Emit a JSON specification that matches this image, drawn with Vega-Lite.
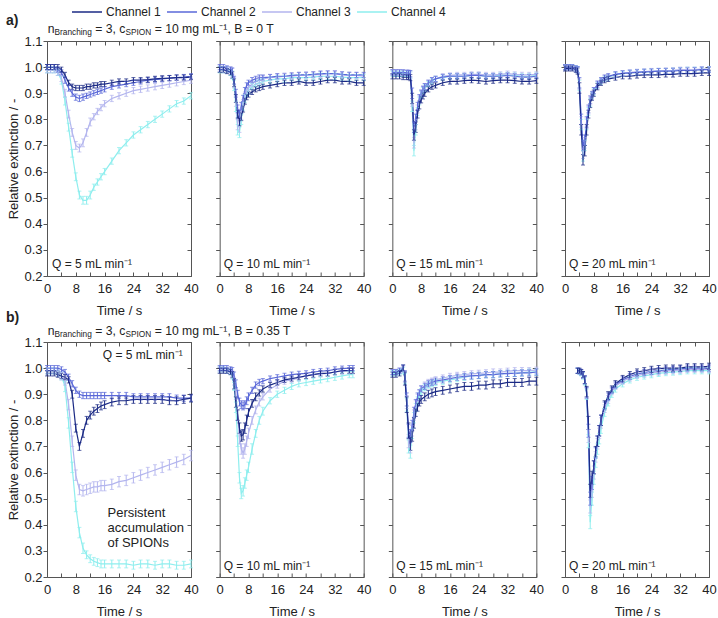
{
"$schema":"https://vega.github.io/schema/vega-lite/v6.json",
"padding":{"left":5,"right":5,"top":5,"bottom":5},
"config":{"font":"Liberation Sans","view":{"stroke":"#555","strokeWidth":1},"axis":{"labelFontSize":13,"titleFontSize":13,"titleFontWeight":"normal","labelColor":"#222","titleColor":"#222","tickColor":"#555","grid":false},"text":{"font":"Liberation Sans","color":"#222"}},
"datasets":{
"a1":[
{"c":4,"t":0,"v":0.99,"e":0.012},{"c":4,"t":1,"v":0.99,"e":0.012},{"c":4,"t":2,"v":0.99,"e":0.012},{"c":4,"t":3,"v":0.98,"e":0.012},{"c":4,"t":4,"v":0.95,"e":0.015},{"c":4,"t":5,"v":0.87,"e":0.015},{"c":4,"t":6,"v":0.77,"e":0.015},{"c":4,"t":7,"v":0.67,"e":0.015},{"c":4,"t":8,"v":0.58,"e":0.015},{"c":4,"t":9,"v":0.51,"e":0.015},{"c":4,"t":10,"v":0.49,"e":0.015},{"c":4,"t":11,"v":0.49,"e":0.015},{"c":4,"t":12,"v":0.51,"e":0.015},{"c":4,"t":13,"v":0.54,"e":0.012},{"c":4,"t":14,"v":0.56,"e":0.012},{"c":4,"t":15,"v":0.58,"e":0.012},{"c":4,"t":16,"v":0.60,"e":0.012},{"c":4,"t":18,"v":0.64,"e":0.012},{"c":4,"t":20,"v":0.68,"e":0.012},{"c":4,"t":22,"v":0.71,"e":0.012},{"c":4,"t":24,"v":0.74,"e":0.012},{"c":4,"t":26,"v":0.76,"e":0.012},{"c":4,"t":28,"v":0.78,"e":0.012},{"c":4,"t":30,"v":0.80,"e":0.012},{"c":4,"t":32,"v":0.82,"e":0.012},{"c":4,"t":34,"v":0.84,"e":0.012},{"c":4,"t":36,"v":0.86,"e":0.012},{"c":4,"t":38,"v":0.87,"e":0.012},{"c":4,"t":40,"v":0.89,"e":0.012},
{"c":3,"t":0,"v":0.99,"e":0.012},{"c":3,"t":1,"v":0.99,"e":0.012},{"c":3,"t":2,"v":0.99,"e":0.012},{"c":3,"t":3,"v":0.98,"e":0.012},{"c":3,"t":4,"v":0.96,"e":0.015},{"c":3,"t":5,"v":0.90,"e":0.015},{"c":3,"t":6,"v":0.82,"e":0.015},{"c":3,"t":7,"v":0.75,"e":0.015},{"c":3,"t":8,"v":0.70,"e":0.015},{"c":3,"t":9,"v":0.69,"e":0.015},{"c":3,"t":10,"v":0.71,"e":0.015},{"c":3,"t":11,"v":0.75,"e":0.015},{"c":3,"t":12,"v":0.79,"e":0.015},{"c":3,"t":13,"v":0.81,"e":0.012},{"c":3,"t":14,"v":0.83,"e":0.012},{"c":3,"t":15,"v":0.845,"e":0.012},{"c":3,"t":16,"v":0.86,"e":0.012},{"c":3,"t":18,"v":0.88,"e":0.012},{"c":3,"t":20,"v":0.89,"e":0.012},{"c":3,"t":22,"v":0.90,"e":0.012},{"c":3,"t":24,"v":0.91,"e":0.012},{"c":3,"t":26,"v":0.915,"e":0.012},{"c":3,"t":28,"v":0.92,"e":0.012},{"c":3,"t":30,"v":0.925,"e":0.012},{"c":3,"t":32,"v":0.93,"e":0.012},{"c":3,"t":34,"v":0.935,"e":0.012},{"c":3,"t":36,"v":0.94,"e":0.012},{"c":3,"t":38,"v":0.945,"e":0.012},{"c":3,"t":40,"v":0.95,"e":0.012},
{"c":2,"t":0,"v":1.0,"e":0.01},{"c":2,"t":1,"v":1.0,"e":0.01},{"c":2,"t":2,"v":1.0,"e":0.01},{"c":2,"t":3,"v":0.99,"e":0.01},{"c":2,"t":4,"v":0.98,"e":0.01},{"c":2,"t":5,"v":0.95,"e":0.012},{"c":2,"t":6,"v":0.92,"e":0.012},{"c":2,"t":7,"v":0.90,"e":0.012},{"c":2,"t":8,"v":0.885,"e":0.012},{"c":2,"t":9,"v":0.88,"e":0.012},{"c":2,"t":10,"v":0.885,"e":0.012},{"c":2,"t":11,"v":0.89,"e":0.01},{"c":2,"t":12,"v":0.895,"e":0.01},{"c":2,"t":13,"v":0.90,"e":0.01},{"c":2,"t":14,"v":0.905,"e":0.01},{"c":2,"t":15,"v":0.91,"e":0.01},{"c":2,"t":16,"v":0.915,"e":0.01},{"c":2,"t":18,"v":0.925,"e":0.01},{"c":2,"t":20,"v":0.93,"e":0.01},{"c":2,"t":22,"v":0.935,"e":0.01},{"c":2,"t":24,"v":0.94,"e":0.01},{"c":2,"t":26,"v":0.945,"e":0.01},{"c":2,"t":28,"v":0.95,"e":0.01},{"c":2,"t":30,"v":0.952,"e":0.01},{"c":2,"t":32,"v":0.955,"e":0.01},{"c":2,"t":34,"v":0.958,"e":0.01},{"c":2,"t":36,"v":0.96,"e":0.01},{"c":2,"t":38,"v":0.962,"e":0.01},{"c":2,"t":40,"v":0.965,"e":0.01},
{"c":1,"t":0,"v":1.0,"e":0.01},{"c":1,"t":1,"v":1.0,"e":0.01},{"c":1,"t":2,"v":1.0,"e":0.01},{"c":1,"t":3,"v":1.0,"e":0.01},{"c":1,"t":4,"v":0.99,"e":0.01},{"c":1,"t":5,"v":0.97,"e":0.01},{"c":1,"t":6,"v":0.94,"e":0.01},{"c":1,"t":7,"v":0.925,"e":0.01},{"c":1,"t":8,"v":0.92,"e":0.01},{"c":1,"t":9,"v":0.92,"e":0.01},{"c":1,"t":10,"v":0.92,"e":0.01},{"c":1,"t":11,"v":0.925,"e":0.01},{"c":1,"t":12,"v":0.925,"e":0.01},{"c":1,"t":13,"v":0.93,"e":0.01},{"c":1,"t":14,"v":0.93,"e":0.01},{"c":1,"t":15,"v":0.935,"e":0.01},{"c":1,"t":16,"v":0.935,"e":0.01},{"c":1,"t":18,"v":0.94,"e":0.01},{"c":1,"t":20,"v":0.945,"e":0.01},{"c":1,"t":22,"v":0.945,"e":0.01},{"c":1,"t":24,"v":0.95,"e":0.01},{"c":1,"t":26,"v":0.95,"e":0.01},{"c":1,"t":28,"v":0.952,"e":0.01},{"c":1,"t":30,"v":0.955,"e":0.01},{"c":1,"t":32,"v":0.957,"e":0.01},{"c":1,"t":34,"v":0.958,"e":0.01},{"c":1,"t":36,"v":0.96,"e":0.01},{"c":1,"t":38,"v":0.96,"e":0.01},{"c":1,"t":40,"v":0.962,"e":0.01}
],
"a2":[
{"c":4,"t":0,"v":0.99,"e":0.012},{"c":4,"t":1,"v":0.99,"e":0.012},{"c":4,"t":2,"v":0.99,"e":0.012},{"c":4,"t":3,"v":0.98,"e":0.012},{"c":4,"t":3.5,"v":0.97,"e":0.015},{"c":4,"t":4,"v":0.93,"e":0.02},{"c":4,"t":4.5,"v":0.85,"e":0.02},{"c":4,"t":5,"v":0.76,"e":0.02},{"c":4,"t":5.5,"v":0.75,"e":0.02},{"c":4,"t":6,"v":0.80,"e":0.02},{"c":4,"t":6.5,"v":0.85,"e":0.015},{"c":4,"t":7,"v":0.88,"e":0.015},{"c":4,"t":7.5,"v":0.90,"e":0.012},{"c":4,"t":8,"v":0.91,"e":0.012},{"c":4,"t":9,"v":0.925,"e":0.012},{"c":4,"t":10,"v":0.935,"e":0.012},{"c":4,"t":11,"v":0.94,"e":0.012},{"c":4,"t":12,"v":0.945,"e":0.012},{"c":4,"t":14,"v":0.95,"e":0.012},{"c":4,"t":16,"v":0.955,"e":0.012},{"c":4,"t":18,"v":0.955,"e":0.012},{"c":4,"t":20,"v":0.96,"e":0.012},{"c":4,"t":22,"v":0.96,"e":0.012},{"c":4,"t":24,"v":0.96,"e":0.012},{"c":4,"t":26,"v":0.962,"e":0.012},{"c":4,"t":28,"v":0.965,"e":0.012},{"c":4,"t":30,"v":0.965,"e":0.012},{"c":4,"t":32,"v":0.965,"e":0.012},{"c":4,"t":34,"v":0.962,"e":0.012},{"c":4,"t":36,"v":0.96,"e":0.012},{"c":4,"t":38,"v":0.96,"e":0.012},{"c":4,"t":40,"v":0.96,"e":0.012},
{"c":3,"t":0,"v":0.995,"e":0.012},{"c":3,"t":1,"v":0.99,"e":0.012},{"c":3,"t":2,"v":0.99,"e":0.012},{"c":3,"t":3,"v":0.99,"e":0.012},{"c":3,"t":3.5,"v":0.98,"e":0.015},{"c":3,"t":4,"v":0.94,"e":0.02},{"c":3,"t":4.5,"v":0.87,"e":0.02},{"c":3,"t":5,"v":0.78,"e":0.02},{"c":3,"t":5.5,"v":0.77,"e":0.02},{"c":3,"t":6,"v":0.82,"e":0.02},{"c":3,"t":6.5,"v":0.86,"e":0.015},{"c":3,"t":7,"v":0.89,"e":0.015},{"c":3,"t":7.5,"v":0.91,"e":0.012},{"c":3,"t":8,"v":0.92,"e":0.012},{"c":3,"t":9,"v":0.935,"e":0.012},{"c":3,"t":10,"v":0.945,"e":0.012},{"c":3,"t":11,"v":0.95,"e":0.012},{"c":3,"t":12,"v":0.955,"e":0.012},{"c":3,"t":14,"v":0.96,"e":0.012},{"c":3,"t":16,"v":0.962,"e":0.012},{"c":3,"t":18,"v":0.965,"e":0.012},{"c":3,"t":20,"v":0.965,"e":0.012},{"c":3,"t":22,"v":0.968,"e":0.012},{"c":3,"t":24,"v":0.97,"e":0.012},{"c":3,"t":26,"v":0.97,"e":0.012},{"c":3,"t":28,"v":0.972,"e":0.012},{"c":3,"t":30,"v":0.975,"e":0.012},{"c":3,"t":32,"v":0.975,"e":0.012},{"c":3,"t":34,"v":0.97,"e":0.012},{"c":3,"t":36,"v":0.968,"e":0.012},{"c":3,"t":38,"v":0.968,"e":0.012},{"c":3,"t":40,"v":0.965,"e":0.012},
{"c":2,"t":0,"v":1.0,"e":0.01},{"c":2,"t":1,"v":1.0,"e":0.01},{"c":2,"t":2,"v":0.995,"e":0.01},{"c":2,"t":3,"v":0.99,"e":0.01},{"c":2,"t":3.5,"v":0.985,"e":0.012},{"c":2,"t":4,"v":0.95,"e":0.015},{"c":2,"t":4.5,"v":0.90,"e":0.015},{"c":2,"t":5,"v":0.84,"e":0.015},{"c":2,"t":5.5,"v":0.82,"e":0.015},{"c":2,"t":6,"v":0.85,"e":0.015},{"c":2,"t":6.5,"v":0.88,"e":0.012},{"c":2,"t":7,"v":0.91,"e":0.012},{"c":2,"t":7.5,"v":0.93,"e":0.01},{"c":2,"t":8,"v":0.94,"e":0.01},{"c":2,"t":9,"v":0.95,"e":0.01},{"c":2,"t":10,"v":0.955,"e":0.01},{"c":2,"t":11,"v":0.96,"e":0.01},{"c":2,"t":12,"v":0.96,"e":0.01},{"c":2,"t":14,"v":0.962,"e":0.01},{"c":2,"t":16,"v":0.965,"e":0.01},{"c":2,"t":18,"v":0.965,"e":0.01},{"c":2,"t":20,"v":0.968,"e":0.01},{"c":2,"t":22,"v":0.97,"e":0.01},{"c":2,"t":24,"v":0.97,"e":0.01},{"c":2,"t":26,"v":0.972,"e":0.01},{"c":2,"t":28,"v":0.975,"e":0.01},{"c":2,"t":30,"v":0.975,"e":0.01},{"c":2,"t":32,"v":0.975,"e":0.01},{"c":2,"t":34,"v":0.972,"e":0.01},{"c":2,"t":36,"v":0.97,"e":0.01},{"c":2,"t":38,"v":0.97,"e":0.01},{"c":2,"t":40,"v":0.97,"e":0.01},
{"c":1,"t":0,"v":0.99,"e":0.01},{"c":1,"t":1,"v":0.99,"e":0.01},{"c":1,"t":2,"v":0.985,"e":0.01},{"c":1,"t":3,"v":0.98,"e":0.01},{"c":1,"t":3.5,"v":0.97,"e":0.012},{"c":1,"t":4,"v":0.94,"e":0.015},{"c":1,"t":4.5,"v":0.88,"e":0.015},{"c":1,"t":5,"v":0.82,"e":0.015},{"c":1,"t":5.5,"v":0.79,"e":0.015},{"c":1,"t":6,"v":0.81,"e":0.015},{"c":1,"t":6.5,"v":0.84,"e":0.012},{"c":1,"t":7,"v":0.87,"e":0.012},{"c":1,"t":7.5,"v":0.885,"e":0.01},{"c":1,"t":8,"v":0.895,"e":0.01},{"c":1,"t":9,"v":0.905,"e":0.01},{"c":1,"t":10,"v":0.915,"e":0.01},{"c":1,"t":11,"v":0.92,"e":0.01},{"c":1,"t":12,"v":0.925,"e":0.01},{"c":1,"t":14,"v":0.93,"e":0.01},{"c":1,"t":16,"v":0.935,"e":0.01},{"c":1,"t":18,"v":0.94,"e":0.01},{"c":1,"t":20,"v":0.94,"e":0.01},{"c":1,"t":22,"v":0.945,"e":0.01},{"c":1,"t":24,"v":0.94,"e":0.01},{"c":1,"t":26,"v":0.94,"e":0.01},{"c":1,"t":28,"v":0.945,"e":0.01},{"c":1,"t":30,"v":0.95,"e":0.01},{"c":1,"t":32,"v":0.95,"e":0.01},{"c":1,"t":34,"v":0.945,"e":0.01},{"c":1,"t":36,"v":0.945,"e":0.01},{"c":1,"t":38,"v":0.94,"e":0.01},{"c":1,"t":40,"v":0.94,"e":0.01}
],
"a3":[
{"c":4,"t":0,"v":0.975,"e":0.01},{"c":4,"t":1,"v":0.975,"e":0.01},{"c":4,"t":2,"v":0.975,"e":0.01},{"c":4,"t":3,"v":0.975,"e":0.01},{"c":4,"t":4,"v":0.975,"e":0.01},{"c":4,"t":4.5,"v":0.975,"e":0.01},{"c":4,"t":5,"v":0.97,"e":0.012},{"c":4,"t":5.5,"v":0.85,"e":0.02},{"c":4,"t":6,"v":0.68,"e":0.02},{"c":4,"t":6.5,"v":0.76,"e":0.02},{"c":4,"t":7,"v":0.83,"e":0.015},{"c":4,"t":7.5,"v":0.87,"e":0.015},{"c":4,"t":8,"v":0.895,"e":0.012},{"c":4,"t":8.5,"v":0.91,"e":0.012},{"c":4,"t":9,"v":0.92,"e":0.012},{"c":4,"t":10,"v":0.935,"e":0.01},{"c":4,"t":11,"v":0.945,"e":0.01},{"c":4,"t":12,"v":0.955,"e":0.01},{"c":4,"t":14,"v":0.96,"e":0.01},{"c":4,"t":16,"v":0.965,"e":0.01},{"c":4,"t":18,"v":0.965,"e":0.01},{"c":4,"t":20,"v":0.965,"e":0.01},{"c":4,"t":22,"v":0.968,"e":0.01},{"c":4,"t":24,"v":0.968,"e":0.01},{"c":4,"t":26,"v":0.965,"e":0.01},{"c":4,"t":28,"v":0.965,"e":0.01},{"c":4,"t":30,"v":0.968,"e":0.01},{"c":4,"t":32,"v":0.97,"e":0.01},{"c":4,"t":34,"v":0.968,"e":0.01},{"c":4,"t":36,"v":0.965,"e":0.01},{"c":4,"t":38,"v":0.965,"e":0.01},{"c":4,"t":40,"v":0.968,"e":0.01},
{"c":3,"t":0,"v":0.98,"e":0.01},{"c":3,"t":1,"v":0.98,"e":0.01},{"c":3,"t":2,"v":0.98,"e":0.01},{"c":3,"t":3,"v":0.978,"e":0.01},{"c":3,"t":4,"v":0.978,"e":0.01},{"c":3,"t":4.5,"v":0.978,"e":0.01},{"c":3,"t":5,"v":0.97,"e":0.012},{"c":3,"t":5.5,"v":0.87,"e":0.02},{"c":3,"t":6,"v":0.71,"e":0.02},{"c":3,"t":6.5,"v":0.78,"e":0.02},{"c":3,"t":7,"v":0.84,"e":0.015},{"c":3,"t":7.5,"v":0.875,"e":0.015},{"c":3,"t":8,"v":0.90,"e":0.012},{"c":3,"t":8.5,"v":0.915,"e":0.012},{"c":3,"t":9,"v":0.925,"e":0.012},{"c":3,"t":10,"v":0.94,"e":0.01},{"c":3,"t":11,"v":0.95,"e":0.01},{"c":3,"t":12,"v":0.955,"e":0.01},{"c":3,"t":14,"v":0.965,"e":0.01},{"c":3,"t":16,"v":0.968,"e":0.01},{"c":3,"t":18,"v":0.97,"e":0.01},{"c":3,"t":20,"v":0.97,"e":0.01},{"c":3,"t":22,"v":0.972,"e":0.01},{"c":3,"t":24,"v":0.972,"e":0.01},{"c":3,"t":26,"v":0.97,"e":0.01},{"c":3,"t":28,"v":0.97,"e":0.01},{"c":3,"t":30,"v":0.972,"e":0.01},{"c":3,"t":32,"v":0.975,"e":0.01},{"c":3,"t":34,"v":0.972,"e":0.01},{"c":3,"t":36,"v":0.97,"e":0.01},{"c":3,"t":38,"v":0.97,"e":0.01},{"c":3,"t":40,"v":0.972,"e":0.01},
{"c":2,"t":0,"v":0.98,"e":0.01},{"c":2,"t":1,"v":0.98,"e":0.01},{"c":2,"t":2,"v":0.98,"e":0.01},{"c":2,"t":3,"v":0.98,"e":0.01},{"c":2,"t":4,"v":0.978,"e":0.01},{"c":2,"t":4.5,"v":0.978,"e":0.01},{"c":2,"t":5,"v":0.975,"e":0.012},{"c":2,"t":5.5,"v":0.90,"e":0.02},{"c":2,"t":6,"v":0.77,"e":0.02},{"c":2,"t":6.5,"v":0.80,"e":0.02},{"c":2,"t":7,"v":0.85,"e":0.015},{"c":2,"t":7.5,"v":0.88,"e":0.015},{"c":2,"t":8,"v":0.90,"e":0.012},{"c":2,"t":8.5,"v":0.915,"e":0.012},{"c":2,"t":9,"v":0.925,"e":0.012},{"c":2,"t":10,"v":0.94,"e":0.01},{"c":2,"t":11,"v":0.95,"e":0.01},{"c":2,"t":12,"v":0.955,"e":0.01},{"c":2,"t":14,"v":0.962,"e":0.01},{"c":2,"t":16,"v":0.965,"e":0.01},{"c":2,"t":18,"v":0.965,"e":0.01},{"c":2,"t":20,"v":0.965,"e":0.01},{"c":2,"t":22,"v":0.968,"e":0.01},{"c":2,"t":24,"v":0.968,"e":0.01},{"c":2,"t":26,"v":0.965,"e":0.01},{"c":2,"t":28,"v":0.965,"e":0.01},{"c":2,"t":30,"v":0.965,"e":0.01},{"c":2,"t":32,"v":0.968,"e":0.01},{"c":2,"t":34,"v":0.965,"e":0.01},{"c":2,"t":36,"v":0.962,"e":0.01},{"c":2,"t":38,"v":0.962,"e":0.01},{"c":2,"t":40,"v":0.965,"e":0.01},
{"c":1,"t":0,"v":0.965,"e":0.01},{"c":1,"t":1,"v":0.965,"e":0.01},{"c":1,"t":2,"v":0.965,"e":0.01},{"c":1,"t":3,"v":0.962,"e":0.01},{"c":1,"t":4,"v":0.962,"e":0.01},{"c":1,"t":4.5,"v":0.962,"e":0.01},{"c":1,"t":5,"v":0.96,"e":0.012},{"c":1,"t":5.5,"v":0.88,"e":0.02},{"c":1,"t":6,"v":0.74,"e":0.02},{"c":1,"t":6.5,"v":0.77,"e":0.02},{"c":1,"t":7,"v":0.82,"e":0.015},{"c":1,"t":7.5,"v":0.855,"e":0.015},{"c":1,"t":8,"v":0.875,"e":0.012},{"c":1,"t":8.5,"v":0.89,"e":0.012},{"c":1,"t":9,"v":0.90,"e":0.012},{"c":1,"t":10,"v":0.915,"e":0.01},{"c":1,"t":11,"v":0.925,"e":0.01},{"c":1,"t":12,"v":0.93,"e":0.01},{"c":1,"t":14,"v":0.94,"e":0.01},{"c":1,"t":16,"v":0.945,"e":0.01},{"c":1,"t":18,"v":0.945,"e":0.01},{"c":1,"t":20,"v":0.948,"e":0.01},{"c":1,"t":22,"v":0.95,"e":0.01},{"c":1,"t":24,"v":0.948,"e":0.01},{"c":1,"t":26,"v":0.945,"e":0.01},{"c":1,"t":28,"v":0.948,"e":0.01},{"c":1,"t":30,"v":0.95,"e":0.01},{"c":1,"t":32,"v":0.95,"e":0.01},{"c":1,"t":34,"v":0.948,"e":0.01},{"c":1,"t":36,"v":0.945,"e":0.01},{"c":1,"t":38,"v":0.945,"e":0.01},{"c":1,"t":40,"v":0.948,"e":0.01}
],
"a4":[
{"c":4,"t":0,"v":1.0,"e":0.01},{"c":4,"t":1,"v":1.0,"e":0.01},{"c":4,"t":2,"v":1.0,"e":0.01},{"c":4,"t":3,"v":0.995,"e":0.01},{"c":4,"t":3.5,"v":0.99,"e":0.012},{"c":4,"t":4,"v":0.93,"e":0.02},{"c":4,"t":4.5,"v":0.78,"e":0.02},{"c":4,"t":5,"v":0.66,"e":0.02},{"c":4,"t":5.5,"v":0.70,"e":0.02},{"c":4,"t":6,"v":0.78,"e":0.02},{"c":4,"t":6.5,"v":0.83,"e":0.015},{"c":4,"t":7,"v":0.865,"e":0.015},{"c":4,"t":7.5,"v":0.89,"e":0.012},{"c":4,"t":8,"v":0.905,"e":0.012},{"c":4,"t":9,"v":0.93,"e":0.012},{"c":4,"t":10,"v":0.945,"e":0.01},{"c":4,"t":11,"v":0.955,"e":0.01},{"c":4,"t":12,"v":0.96,"e":0.01},{"c":4,"t":14,"v":0.97,"e":0.01},{"c":4,"t":16,"v":0.975,"e":0.01},{"c":4,"t":18,"v":0.978,"e":0.01},{"c":4,"t":20,"v":0.98,"e":0.01},{"c":4,"t":22,"v":0.982,"e":0.01},{"c":4,"t":24,"v":0.983,"e":0.01},{"c":4,"t":26,"v":0.985,"e":0.01},{"c":4,"t":28,"v":0.985,"e":0.01},{"c":4,"t":30,"v":0.987,"e":0.01},{"c":4,"t":32,"v":0.988,"e":0.01},{"c":4,"t":34,"v":0.99,"e":0.01},{"c":4,"t":36,"v":0.99,"e":0.01},{"c":4,"t":38,"v":0.99,"e":0.01},{"c":4,"t":40,"v":0.992,"e":0.01},
{"c":3,"t":0,"v":1.0,"e":0.01},{"c":3,"t":1,"v":1.0,"e":0.01},{"c":3,"t":2,"v":1.0,"e":0.01},{"c":3,"t":3,"v":0.995,"e":0.01},{"c":3,"t":3.5,"v":0.99,"e":0.012},{"c":3,"t":4,"v":0.935,"e":0.02},{"c":3,"t":4.5,"v":0.79,"e":0.02},{"c":3,"t":5,"v":0.67,"e":0.02},{"c":3,"t":5.5,"v":0.71,"e":0.02},{"c":3,"t":6,"v":0.785,"e":0.02},{"c":3,"t":6.5,"v":0.835,"e":0.015},{"c":3,"t":7,"v":0.87,"e":0.015},{"c":3,"t":7.5,"v":0.89,"e":0.012},{"c":3,"t":8,"v":0.91,"e":0.012},{"c":3,"t":9,"v":0.932,"e":0.012},{"c":3,"t":10,"v":0.947,"e":0.01},{"c":3,"t":11,"v":0.957,"e":0.01},{"c":3,"t":12,"v":0.962,"e":0.01},{"c":3,"t":14,"v":0.972,"e":0.01},{"c":3,"t":16,"v":0.977,"e":0.01},{"c":3,"t":18,"v":0.98,"e":0.01},{"c":3,"t":20,"v":0.982,"e":0.01},{"c":3,"t":22,"v":0.983,"e":0.01},{"c":3,"t":24,"v":0.985,"e":0.01},{"c":3,"t":26,"v":0.985,"e":0.01},{"c":3,"t":28,"v":0.987,"e":0.01},{"c":3,"t":30,"v":0.988,"e":0.01},{"c":3,"t":32,"v":0.99,"e":0.01},{"c":3,"t":34,"v":0.99,"e":0.01},{"c":3,"t":36,"v":0.99,"e":0.01},{"c":3,"t":38,"v":0.992,"e":0.01},{"c":3,"t":40,"v":0.992,"e":0.01},
{"c":2,"t":0,"v":1.0,"e":0.01},{"c":2,"t":1,"v":1.0,"e":0.01},{"c":2,"t":2,"v":1.0,"e":0.01},{"c":2,"t":3,"v":0.995,"e":0.01},{"c":2,"t":3.5,"v":0.99,"e":0.012},{"c":2,"t":4,"v":0.94,"e":0.02},{"c":2,"t":4.5,"v":0.80,"e":0.02},{"c":2,"t":5,"v":0.70,"e":0.02},{"c":2,"t":5.5,"v":0.72,"e":0.02},{"c":2,"t":6,"v":0.79,"e":0.02},{"c":2,"t":6.5,"v":0.84,"e":0.015},{"c":2,"t":7,"v":0.875,"e":0.015},{"c":2,"t":7.5,"v":0.895,"e":0.012},{"c":2,"t":8,"v":0.91,"e":0.012},{"c":2,"t":9,"v":0.935,"e":0.012},{"c":2,"t":10,"v":0.95,"e":0.01},{"c":2,"t":11,"v":0.96,"e":0.01},{"c":2,"t":12,"v":0.965,"e":0.01},{"c":2,"t":14,"v":0.972,"e":0.01},{"c":2,"t":16,"v":0.976,"e":0.01},{"c":2,"t":18,"v":0.978,"e":0.01},{"c":2,"t":20,"v":0.98,"e":0.01},{"c":2,"t":22,"v":0.982,"e":0.01},{"c":2,"t":24,"v":0.983,"e":0.01},{"c":2,"t":26,"v":0.985,"e":0.01},{"c":2,"t":28,"v":0.985,"e":0.01},{"c":2,"t":30,"v":0.985,"e":0.01},{"c":2,"t":32,"v":0.987,"e":0.01},{"c":2,"t":34,"v":0.987,"e":0.01},{"c":2,"t":36,"v":0.988,"e":0.01},{"c":2,"t":38,"v":0.99,"e":0.01},{"c":2,"t":40,"v":0.99,"e":0.01},
{"c":1,"t":0,"v":0.995,"e":0.01},{"c":1,"t":1,"v":0.995,"e":0.01},{"c":1,"t":2,"v":0.995,"e":0.01},{"c":1,"t":3,"v":0.99,"e":0.01},{"c":1,"t":3.5,"v":0.985,"e":0.012},{"c":1,"t":4,"v":0.92,"e":0.02},{"c":1,"t":4.5,"v":0.76,"e":0.02},{"c":1,"t":5,"v":0.645,"e":0.02},{"c":1,"t":5.5,"v":0.68,"e":0.02},{"c":1,"t":6,"v":0.76,"e":0.02},{"c":1,"t":6.5,"v":0.82,"e":0.015},{"c":1,"t":7,"v":0.86,"e":0.015},{"c":1,"t":7.5,"v":0.885,"e":0.012},{"c":1,"t":8,"v":0.90,"e":0.012},{"c":1,"t":9,"v":0.925,"e":0.012},{"c":1,"t":10,"v":0.94,"e":0.01},{"c":1,"t":11,"v":0.95,"e":0.01},{"c":1,"t":12,"v":0.955,"e":0.01},{"c":1,"t":14,"v":0.96,"e":0.01},{"c":1,"t":16,"v":0.965,"e":0.01},{"c":1,"t":18,"v":0.965,"e":0.01},{"c":1,"t":20,"v":0.968,"e":0.01},{"c":1,"t":22,"v":0.97,"e":0.01},{"c":1,"t":24,"v":0.97,"e":0.01},{"c":1,"t":26,"v":0.97,"e":0.01},{"c":1,"t":28,"v":0.972,"e":0.01},{"c":1,"t":30,"v":0.972,"e":0.01},{"c":1,"t":32,"v":0.975,"e":0.01},{"c":1,"t":34,"v":0.975,"e":0.01},{"c":1,"t":36,"v":0.975,"e":0.01},{"c":1,"t":38,"v":0.978,"e":0.01},{"c":1,"t":40,"v":0.978,"e":0.01}
],
"b1":[
{"c":4,"t":0,"v":0.99,"e":0.012},{"c":4,"t":1,"v":0.99,"e":0.012},{"c":4,"t":2,"v":0.99,"e":0.012},{"c":4,"t":3,"v":0.98,"e":0.012},{"c":4,"t":4,"v":0.97,"e":0.015},{"c":4,"t":5,"v":0.93,"e":0.02},{"c":4,"t":6,"v":0.79,"e":0.02},{"c":4,"t":7,"v":0.62,"e":0.02},{"c":4,"t":8,"v":0.47,"e":0.02},{"c":4,"t":9,"v":0.37,"e":0.02},{"c":4,"t":10,"v":0.31,"e":0.02},{"c":4,"t":11,"v":0.285,"e":0.015},{"c":4,"t":12,"v":0.27,"e":0.015},{"c":4,"t":13,"v":0.26,"e":0.015},{"c":4,"t":14,"v":0.255,"e":0.015},{"c":4,"t":15,"v":0.25,"e":0.015},{"c":4,"t":16,"v":0.25,"e":0.015},{"c":4,"t":18,"v":0.25,"e":0.015},{"c":4,"t":20,"v":0.25,"e":0.015},{"c":4,"t":22,"v":0.25,"e":0.015},{"c":4,"t":24,"v":0.245,"e":0.015},{"c":4,"t":26,"v":0.25,"e":0.015},{"c":4,"t":28,"v":0.25,"e":0.015},{"c":4,"t":30,"v":0.245,"e":0.015},{"c":4,"t":32,"v":0.25,"e":0.015},{"c":4,"t":34,"v":0.25,"e":0.015},{"c":4,"t":36,"v":0.245,"e":0.015},{"c":4,"t":38,"v":0.245,"e":0.015},{"c":4,"t":40,"v":0.25,"e":0.015},
{"c":3,"t":0,"v":0.99,"e":0.012},{"c":3,"t":1,"v":0.99,"e":0.012},{"c":3,"t":2,"v":0.99,"e":0.012},{"c":3,"t":3,"v":0.98,"e":0.012},{"c":3,"t":4,"v":0.97,"e":0.015},{"c":3,"t":5,"v":0.95,"e":0.015},{"c":3,"t":6,"v":0.86,"e":0.02},{"c":3,"t":7,"v":0.72,"e":0.02},{"c":3,"t":8,"v":0.59,"e":0.02},{"c":3,"t":9,"v":0.535,"e":0.02},{"c":3,"t":10,"v":0.53,"e":0.02},{"c":3,"t":11,"v":0.535,"e":0.02},{"c":3,"t":12,"v":0.54,"e":0.02},{"c":3,"t":13,"v":0.545,"e":0.02},{"c":3,"t":14,"v":0.545,"e":0.02},{"c":3,"t":15,"v":0.55,"e":0.02},{"c":3,"t":16,"v":0.55,"e":0.02},{"c":3,"t":18,"v":0.555,"e":0.02},{"c":3,"t":20,"v":0.565,"e":0.02},{"c":3,"t":22,"v":0.57,"e":0.02},{"c":3,"t":24,"v":0.58,"e":0.02},{"c":3,"t":26,"v":0.59,"e":0.02},{"c":3,"t":28,"v":0.60,"e":0.02},{"c":3,"t":30,"v":0.61,"e":0.02},{"c":3,"t":32,"v":0.62,"e":0.02},{"c":3,"t":34,"v":0.63,"e":0.02},{"c":3,"t":36,"v":0.64,"e":0.02},{"c":3,"t":38,"v":0.65,"e":0.02},{"c":3,"t":40,"v":0.665,"e":0.02},
{"c":2,"t":0,"v":1.0,"e":0.01},{"c":2,"t":1,"v":1.0,"e":0.01},{"c":2,"t":2,"v":1.0,"e":0.01},{"c":2,"t":3,"v":1.0,"e":0.01},{"c":2,"t":4,"v":0.995,"e":0.01},{"c":2,"t":5,"v":0.985,"e":0.01},{"c":2,"t":6,"v":0.965,"e":0.012},{"c":2,"t":7,"v":0.94,"e":0.012},{"c":2,"t":8,"v":0.915,"e":0.012},{"c":2,"t":9,"v":0.90,"e":0.012},{"c":2,"t":10,"v":0.895,"e":0.012},{"c":2,"t":11,"v":0.895,"e":0.012},{"c":2,"t":12,"v":0.895,"e":0.012},{"c":2,"t":13,"v":0.895,"e":0.012},{"c":2,"t":14,"v":0.895,"e":0.012},{"c":2,"t":15,"v":0.895,"e":0.012},{"c":2,"t":16,"v":0.895,"e":0.012},{"c":2,"t":18,"v":0.895,"e":0.012},{"c":2,"t":20,"v":0.895,"e":0.012},{"c":2,"t":22,"v":0.895,"e":0.012},{"c":2,"t":24,"v":0.89,"e":0.012},{"c":2,"t":26,"v":0.89,"e":0.012},{"c":2,"t":28,"v":0.89,"e":0.012},{"c":2,"t":30,"v":0.89,"e":0.012},{"c":2,"t":32,"v":0.89,"e":0.012},{"c":2,"t":34,"v":0.89,"e":0.012},{"c":2,"t":36,"v":0.885,"e":0.012},{"c":2,"t":38,"v":0.885,"e":0.012},{"c":2,"t":40,"v":0.885,"e":0.012},
{"c":1,"t":0,"v":0.98,"e":0.01},{"c":1,"t":1,"v":0.98,"e":0.01},{"c":1,"t":2,"v":0.98,"e":0.01},{"c":1,"t":3,"v":0.975,"e":0.01},{"c":1,"t":4,"v":0.97,"e":0.01},{"c":1,"t":5,"v":0.965,"e":0.01},{"c":1,"t":6,"v":0.955,"e":0.012},{"c":1,"t":7,"v":0.90,"e":0.015},{"c":1,"t":8,"v":0.77,"e":0.015},{"c":1,"t":9,"v":0.70,"e":0.015},{"c":1,"t":10,"v":0.75,"e":0.015},{"c":1,"t":11,"v":0.80,"e":0.015},{"c":1,"t":12,"v":0.82,"e":0.015},{"c":1,"t":13,"v":0.835,"e":0.015},{"c":1,"t":14,"v":0.845,"e":0.015},{"c":1,"t":15,"v":0.855,"e":0.015},{"c":1,"t":16,"v":0.86,"e":0.015},{"c":1,"t":18,"v":0.87,"e":0.015},{"c":1,"t":20,"v":0.875,"e":0.015},{"c":1,"t":22,"v":0.875,"e":0.015},{"c":1,"t":24,"v":0.88,"e":0.015},{"c":1,"t":26,"v":0.88,"e":0.015},{"c":1,"t":28,"v":0.88,"e":0.015},{"c":1,"t":30,"v":0.88,"e":0.015},{"c":1,"t":32,"v":0.88,"e":0.015},{"c":1,"t":34,"v":0.875,"e":0.015},{"c":1,"t":36,"v":0.875,"e":0.015},{"c":1,"t":38,"v":0.88,"e":0.015},{"c":1,"t":40,"v":0.885,"e":0.015}
],
"b2":[
{"c":4,"t":0,"v":0.995,"e":0.01},{"c":4,"t":1,"v":0.995,"e":0.01},{"c":4,"t":2,"v":0.99,"e":0.01},{"c":4,"t":3,"v":0.985,"e":0.01},{"c":4,"t":3.5,"v":0.97,"e":0.012},{"c":4,"t":4,"v":0.93,"e":0.015},{"c":4,"t":4.5,"v":0.85,"e":0.02},{"c":4,"t":5,"v":0.72,"e":0.02},{"c":4,"t":5.5,"v":0.58,"e":0.02},{"c":4,"t":6,"v":0.52,"e":0.02},{"c":4,"t":6.5,"v":0.53,"e":0.02},{"c":4,"t":7,"v":0.56,"e":0.02},{"c":4,"t":7.5,"v":0.59,"e":0.02},{"c":4,"t":8,"v":0.62,"e":0.02},{"c":4,"t":9,"v":0.69,"e":0.02},{"c":4,"t":10,"v":0.75,"e":0.015},{"c":4,"t":11,"v":0.80,"e":0.015},{"c":4,"t":12,"v":0.835,"e":0.015},{"c":4,"t":14,"v":0.875,"e":0.012},{"c":4,"t":16,"v":0.90,"e":0.012},{"c":4,"t":18,"v":0.915,"e":0.012},{"c":4,"t":20,"v":0.93,"e":0.012},{"c":4,"t":22,"v":0.94,"e":0.012},{"c":4,"t":24,"v":0.945,"e":0.012},{"c":4,"t":26,"v":0.95,"e":0.012},{"c":4,"t":28,"v":0.955,"e":0.012},{"c":4,"t":30,"v":0.96,"e":0.012},{"c":4,"t":32,"v":0.965,"e":0.012},{"c":4,"t":34,"v":0.97,"e":0.012},{"c":4,"t":36,"v":0.975,"e":0.012},{"c":4,"t":37,"v":0.975,"e":0.012},
{"c":3,"t":0,"v":0.995,"e":0.01},{"c":3,"t":1,"v":0.995,"e":0.01},{"c":3,"t":2,"v":0.99,"e":0.01},{"c":3,"t":3,"v":0.99,"e":0.01},{"c":3,"t":3.5,"v":0.98,"e":0.012},{"c":3,"t":4,"v":0.95,"e":0.015},{"c":3,"t":4.5,"v":0.90,"e":0.02},{"c":3,"t":5,"v":0.82,"e":0.02},{"c":3,"t":5.5,"v":0.73,"e":0.02},{"c":3,"t":6,"v":0.69,"e":0.02},{"c":3,"t":6.5,"v":0.675,"e":0.02},{"c":3,"t":7,"v":0.69,"e":0.02},{"c":3,"t":7.5,"v":0.72,"e":0.02},{"c":3,"t":8,"v":0.75,"e":0.02},{"c":3,"t":9,"v":0.80,"e":0.015},{"c":3,"t":10,"v":0.84,"e":0.015},{"c":3,"t":11,"v":0.87,"e":0.015},{"c":3,"t":12,"v":0.89,"e":0.012},{"c":3,"t":14,"v":0.92,"e":0.012},{"c":3,"t":16,"v":0.935,"e":0.012},{"c":3,"t":18,"v":0.95,"e":0.012},{"c":3,"t":20,"v":0.955,"e":0.012},{"c":3,"t":22,"v":0.962,"e":0.012},{"c":3,"t":24,"v":0.97,"e":0.012},{"c":3,"t":26,"v":0.975,"e":0.012},{"c":3,"t":28,"v":0.978,"e":0.012},{"c":3,"t":30,"v":0.98,"e":0.012},{"c":3,"t":32,"v":0.985,"e":0.012},{"c":3,"t":34,"v":0.988,"e":0.012},{"c":3,"t":36,"v":0.99,"e":0.012},{"c":3,"t":37,"v":0.99,"e":0.012},
{"c":2,"t":0,"v":1.0,"e":0.01},{"c":2,"t":1,"v":1.0,"e":0.01},{"c":2,"t":2,"v":1.0,"e":0.01},{"c":2,"t":3,"v":0.995,"e":0.01},{"c":2,"t":3.5,"v":0.99,"e":0.012},{"c":2,"t":4,"v":0.97,"e":0.015},{"c":2,"t":4.5,"v":0.94,"e":0.015},{"c":2,"t":5,"v":0.90,"e":0.015},{"c":2,"t":5.5,"v":0.87,"e":0.015},{"c":2,"t":6,"v":0.86,"e":0.015},{"c":2,"t":6.5,"v":0.855,"e":0.015},{"c":2,"t":7,"v":0.86,"e":0.015},{"c":2,"t":7.5,"v":0.875,"e":0.015},{"c":2,"t":8,"v":0.89,"e":0.015},{"c":2,"t":9,"v":0.915,"e":0.012},{"c":2,"t":10,"v":0.935,"e":0.012},{"c":2,"t":11,"v":0.945,"e":0.012},{"c":2,"t":12,"v":0.95,"e":0.01},{"c":2,"t":14,"v":0.96,"e":0.01},{"c":2,"t":16,"v":0.965,"e":0.01},{"c":2,"t":18,"v":0.97,"e":0.01},{"c":2,"t":20,"v":0.975,"e":0.01},{"c":2,"t":22,"v":0.978,"e":0.01},{"c":2,"t":24,"v":0.98,"e":0.01},{"c":2,"t":26,"v":0.985,"e":0.01},{"c":2,"t":28,"v":0.988,"e":0.01},{"c":2,"t":30,"v":0.99,"e":0.01},{"c":2,"t":32,"v":0.995,"e":0.01},{"c":2,"t":34,"v":0.998,"e":0.01},{"c":2,"t":36,"v":1.0,"e":0.01},{"c":2,"t":37,"v":1.0,"e":0.01},
{"c":1,"t":0,"v":0.99,"e":0.01},{"c":1,"t":1,"v":0.99,"e":0.01},{"c":1,"t":2,"v":0.99,"e":0.01},{"c":1,"t":3,"v":0.985,"e":0.01},{"c":1,"t":3.5,"v":0.975,"e":0.012},{"c":1,"t":4,"v":0.94,"e":0.02},{"c":1,"t":4.5,"v":0.87,"e":0.02},{"c":1,"t":5,"v":0.82,"e":0.02},{"c":1,"t":5.5,"v":0.77,"e":0.02},{"c":1,"t":6,"v":0.74,"e":0.02},{"c":1,"t":6.5,"v":0.745,"e":0.02},{"c":1,"t":7,"v":0.77,"e":0.02},{"c":1,"t":7.5,"v":0.80,"e":0.02},{"c":1,"t":8,"v":0.83,"e":0.015},{"c":1,"t":9,"v":0.865,"e":0.015},{"c":1,"t":10,"v":0.89,"e":0.015},{"c":1,"t":11,"v":0.905,"e":0.012},{"c":1,"t":12,"v":0.92,"e":0.012},{"c":1,"t":14,"v":0.935,"e":0.01},{"c":1,"t":16,"v":0.945,"e":0.01},{"c":1,"t":18,"v":0.955,"e":0.01},{"c":1,"t":20,"v":0.96,"e":0.01},{"c":1,"t":22,"v":0.965,"e":0.01},{"c":1,"t":24,"v":0.97,"e":0.01},{"c":1,"t":26,"v":0.975,"e":0.01},{"c":1,"t":28,"v":0.98,"e":0.01},{"c":1,"t":30,"v":0.98,"e":0.01},{"c":1,"t":32,"v":0.985,"e":0.01},{"c":1,"t":34,"v":0.99,"e":0.01},{"c":1,"t":36,"v":0.99,"e":0.01},{"c":1,"t":37,"v":0.99,"e":0.01}
],
"b3":[
{"c":4,"t":0,"v":0.98,"e":0.01},{"c":4,"t":1,"v":0.98,"e":0.01},{"c":4,"t":2,"v":0.985,"e":0.01},{"c":4,"t":3,"v":0.99,"e":0.012},{"c":4,"t":3.5,"v":0.96,"e":0.02},{"c":4,"t":4,"v":0.86,"e":0.025},{"c":4,"t":4.5,"v":0.70,"e":0.025},{"c":4,"t":5,"v":0.68,"e":0.025},{"c":4,"t":5.5,"v":0.75,"e":0.02},{"c":4,"t":6,"v":0.81,"e":0.02},{"c":4,"t":6.5,"v":0.85,"e":0.015},{"c":4,"t":7,"v":0.875,"e":0.015},{"c":4,"t":7.5,"v":0.895,"e":0.012},{"c":4,"t":8,"v":0.91,"e":0.012},{"c":4,"t":9,"v":0.925,"e":0.012},{"c":4,"t":10,"v":0.935,"e":0.012},{"c":4,"t":11,"v":0.94,"e":0.012},{"c":4,"t":12,"v":0.945,"e":0.012},{"c":4,"t":14,"v":0.95,"e":0.012},{"c":4,"t":16,"v":0.955,"e":0.012},{"c":4,"t":18,"v":0.96,"e":0.012},{"c":4,"t":20,"v":0.965,"e":0.012},{"c":4,"t":22,"v":0.97,"e":0.012},{"c":4,"t":24,"v":0.972,"e":0.012},{"c":4,"t":26,"v":0.975,"e":0.012},{"c":4,"t":28,"v":0.975,"e":0.012},{"c":4,"t":30,"v":0.978,"e":0.012},{"c":4,"t":32,"v":0.98,"e":0.012},{"c":4,"t":34,"v":0.98,"e":0.012},{"c":4,"t":36,"v":0.982,"e":0.012},{"c":4,"t":38,"v":0.985,"e":0.012},{"c":4,"t":40,"v":0.985,"e":0.012},
{"c":3,"t":0,"v":0.985,"e":0.01},{"c":3,"t":1,"v":0.985,"e":0.01},{"c":3,"t":2,"v":0.99,"e":0.01},{"c":3,"t":3,"v":0.995,"e":0.012},{"c":3,"t":3.5,"v":0.965,"e":0.02},{"c":3,"t":4,"v":0.87,"e":0.025},{"c":3,"t":4.5,"v":0.72,"e":0.025},{"c":3,"t":5,"v":0.70,"e":0.025},{"c":3,"t":5.5,"v":0.76,"e":0.02},{"c":3,"t":6,"v":0.82,"e":0.02},{"c":3,"t":6.5,"v":0.86,"e":0.015},{"c":3,"t":7,"v":0.885,"e":0.015},{"c":3,"t":7.5,"v":0.905,"e":0.012},{"c":3,"t":8,"v":0.92,"e":0.012},{"c":3,"t":9,"v":0.935,"e":0.012},{"c":3,"t":10,"v":0.945,"e":0.012},{"c":3,"t":11,"v":0.95,"e":0.012},{"c":3,"t":12,"v":0.955,"e":0.012},{"c":3,"t":14,"v":0.962,"e":0.012},{"c":3,"t":16,"v":0.968,"e":0.012},{"c":3,"t":18,"v":0.972,"e":0.012},{"c":3,"t":20,"v":0.975,"e":0.012},{"c":3,"t":22,"v":0.978,"e":0.012},{"c":3,"t":24,"v":0.98,"e":0.012},{"c":3,"t":26,"v":0.982,"e":0.012},{"c":3,"t":28,"v":0.985,"e":0.012},{"c":3,"t":30,"v":0.985,"e":0.012},{"c":3,"t":32,"v":0.988,"e":0.012},{"c":3,"t":34,"v":0.99,"e":0.012},{"c":3,"t":36,"v":0.99,"e":0.012},{"c":3,"t":38,"v":0.99,"e":0.012},{"c":3,"t":40,"v":0.992,"e":0.012},
{"c":2,"t":0,"v":0.985,"e":0.01},{"c":2,"t":1,"v":0.985,"e":0.01},{"c":2,"t":2,"v":0.99,"e":0.01},{"c":2,"t":3,"v":1.0,"e":0.012},{"c":2,"t":3.5,"v":0.97,"e":0.02},{"c":2,"t":4,"v":0.88,"e":0.025},{"c":2,"t":4.5,"v":0.76,"e":0.025},{"c":2,"t":5,"v":0.74,"e":0.025},{"c":2,"t":5.5,"v":0.78,"e":0.02},{"c":2,"t":6,"v":0.83,"e":0.02},{"c":2,"t":6.5,"v":0.865,"e":0.015},{"c":2,"t":7,"v":0.89,"e":0.015},{"c":2,"t":7.5,"v":0.905,"e":0.012},{"c":2,"t":8,"v":0.92,"e":0.012},{"c":2,"t":9,"v":0.93,"e":0.012},{"c":2,"t":10,"v":0.94,"e":0.012},{"c":2,"t":11,"v":0.945,"e":0.012},{"c":2,"t":12,"v":0.95,"e":0.012},{"c":2,"t":14,"v":0.955,"e":0.012},{"c":2,"t":16,"v":0.96,"e":0.012},{"c":2,"t":18,"v":0.965,"e":0.012},{"c":2,"t":20,"v":0.968,"e":0.012},{"c":2,"t":22,"v":0.97,"e":0.012},{"c":2,"t":24,"v":0.972,"e":0.012},{"c":2,"t":26,"v":0.975,"e":0.012},{"c":2,"t":28,"v":0.975,"e":0.012},{"c":2,"t":30,"v":0.978,"e":0.012},{"c":2,"t":32,"v":0.98,"e":0.012},{"c":2,"t":34,"v":0.98,"e":0.012},{"c":2,"t":36,"v":0.982,"e":0.012},{"c":2,"t":38,"v":0.982,"e":0.012},{"c":2,"t":40,"v":0.985,"e":0.012},
{"c":1,"t":0,"v":0.975,"e":0.01},{"c":1,"t":1,"v":0.975,"e":0.01},{"c":1,"t":2,"v":0.98,"e":0.01},{"c":1,"t":3,"v":1.0,"e":0.012},{"c":1,"t":3.5,"v":0.96,"e":0.025},{"c":1,"t":4,"v":0.86,"e":0.03},{"c":1,"t":4.5,"v":0.76,"e":0.03},{"c":1,"t":5,"v":0.71,"e":0.025},{"c":1,"t":5.5,"v":0.74,"e":0.02},{"c":1,"t":6,"v":0.79,"e":0.02},{"c":1,"t":6.5,"v":0.83,"e":0.015},{"c":1,"t":7,"v":0.85,"e":0.015},{"c":1,"t":7.5,"v":0.87,"e":0.015},{"c":1,"t":8,"v":0.88,"e":0.015},{"c":1,"t":9,"v":0.89,"e":0.015},{"c":1,"t":10,"v":0.90,"e":0.015},{"c":1,"t":11,"v":0.905,"e":0.015},{"c":1,"t":12,"v":0.91,"e":0.015},{"c":1,"t":14,"v":0.915,"e":0.015},{"c":1,"t":16,"v":0.92,"e":0.015},{"c":1,"t":18,"v":0.925,"e":0.015},{"c":1,"t":20,"v":0.93,"e":0.015},{"c":1,"t":22,"v":0.93,"e":0.015},{"c":1,"t":24,"v":0.935,"e":0.015},{"c":1,"t":26,"v":0.935,"e":0.015},{"c":1,"t":28,"v":0.94,"e":0.015},{"c":1,"t":30,"v":0.94,"e":0.015},{"c":1,"t":32,"v":0.945,"e":0.015},{"c":1,"t":34,"v":0.945,"e":0.015},{"c":1,"t":36,"v":0.945,"e":0.015},{"c":1,"t":38,"v":0.95,"e":0.015},{"c":1,"t":40,"v":0.95,"e":0.015}
],
"b4":[
{"c":4,"t":3.5,"v":0.99,"e":0.01},{"c":4,"t":4,"v":0.985,"e":0.01},{"c":4,"t":4.5,"v":0.98,"e":0.01},{"c":4,"t":5,"v":0.97,"e":0.012},{"c":4,"t":5.5,"v":0.95,"e":0.015},{"c":4,"t":6,"v":0.90,"e":0.02},{"c":4,"t":6.5,"v":0.72,"e":0.025},{"c":4,"t":7,"v":0.41,"e":0.025},{"c":4,"t":7.5,"v":0.50,"e":0.025},{"c":4,"t":8,"v":0.58,"e":0.025},{"c":4,"t":8.5,"v":0.64,"e":0.02},{"c":4,"t":9,"v":0.69,"e":0.02},{"c":4,"t":9.5,"v":0.73,"e":0.02},{"c":4,"t":10,"v":0.77,"e":0.02},{"c":4,"t":11,"v":0.83,"e":0.015},{"c":4,"t":12,"v":0.87,"e":0.015},{"c":4,"t":13,"v":0.90,"e":0.012},{"c":4,"t":14,"v":0.92,"e":0.012},{"c":4,"t":16,"v":0.94,"e":0.012},{"c":4,"t":18,"v":0.955,"e":0.012},{"c":4,"t":20,"v":0.965,"e":0.012},{"c":4,"t":22,"v":0.97,"e":0.012},{"c":4,"t":24,"v":0.975,"e":0.012},{"c":4,"t":26,"v":0.98,"e":0.012},{"c":4,"t":28,"v":0.983,"e":0.012},{"c":4,"t":30,"v":0.985,"e":0.012},{"c":4,"t":32,"v":0.987,"e":0.012},{"c":4,"t":34,"v":0.99,"e":0.012},{"c":4,"t":36,"v":0.99,"e":0.012},{"c":4,"t":38,"v":0.99,"e":0.012},{"c":4,"t":40,"v":0.99,"e":0.012},
{"c":3,"t":3.5,"v":0.99,"e":0.01},{"c":3,"t":4,"v":0.987,"e":0.01},{"c":3,"t":4.5,"v":0.982,"e":0.01},{"c":3,"t":5,"v":0.972,"e":0.012},{"c":3,"t":5.5,"v":0.955,"e":0.015},{"c":3,"t":6,"v":0.905,"e":0.02},{"c":3,"t":6.5,"v":0.74,"e":0.025},{"c":3,"t":7,"v":0.47,"e":0.025},{"c":3,"t":7.5,"v":0.53,"e":0.025},{"c":3,"t":8,"v":0.60,"e":0.025},{"c":3,"t":8.5,"v":0.66,"e":0.02},{"c":3,"t":9,"v":0.71,"e":0.02},{"c":3,"t":9.5,"v":0.75,"e":0.02},{"c":3,"t":10,"v":0.79,"e":0.02},{"c":3,"t":11,"v":0.845,"e":0.015},{"c":3,"t":12,"v":0.88,"e":0.015},{"c":3,"t":13,"v":0.91,"e":0.012},{"c":3,"t":14,"v":0.93,"e":0.012},{"c":3,"t":16,"v":0.95,"e":0.012},{"c":3,"t":18,"v":0.962,"e":0.012},{"c":3,"t":20,"v":0.972,"e":0.012},{"c":3,"t":22,"v":0.977,"e":0.012},{"c":3,"t":24,"v":0.982,"e":0.012},{"c":3,"t":26,"v":0.985,"e":0.012},{"c":3,"t":28,"v":0.988,"e":0.012},{"c":3,"t":30,"v":0.99,"e":0.012},{"c":3,"t":32,"v":0.992,"e":0.012},{"c":3,"t":34,"v":0.995,"e":0.012},{"c":3,"t":36,"v":0.995,"e":0.012},{"c":3,"t":38,"v":0.995,"e":0.012},{"c":3,"t":40,"v":0.995,"e":0.012},
{"c":2,"t":3.5,"v":0.99,"e":0.01},{"c":2,"t":4,"v":0.988,"e":0.01},{"c":2,"t":4.5,"v":0.984,"e":0.01},{"c":2,"t":5,"v":0.974,"e":0.012},{"c":2,"t":5.5,"v":0.955,"e":0.015},{"c":2,"t":6,"v":0.905,"e":0.02},{"c":2,"t":6.5,"v":0.76,"e":0.025},{"c":2,"t":7,"v":0.50,"e":0.025},{"c":2,"t":7.5,"v":0.56,"e":0.025},{"c":2,"t":8,"v":0.62,"e":0.025},{"c":2,"t":8.5,"v":0.675,"e":0.02},{"c":2,"t":9,"v":0.72,"e":0.02},{"c":2,"t":9.5,"v":0.76,"e":0.02},{"c":2,"t":10,"v":0.80,"e":0.02},{"c":2,"t":11,"v":0.855,"e":0.015},{"c":2,"t":12,"v":0.89,"e":0.015},{"c":2,"t":13,"v":0.915,"e":0.012},{"c":2,"t":14,"v":0.935,"e":0.012},{"c":2,"t":16,"v":0.955,"e":0.012},{"c":2,"t":18,"v":0.968,"e":0.012},{"c":2,"t":20,"v":0.978,"e":0.012},{"c":2,"t":22,"v":0.983,"e":0.012},{"c":2,"t":24,"v":0.988,"e":0.012},{"c":2,"t":26,"v":0.99,"e":0.012},{"c":2,"t":28,"v":0.993,"e":0.012},{"c":2,"t":30,"v":0.995,"e":0.012},{"c":2,"t":32,"v":0.997,"e":0.012},{"c":2,"t":34,"v":1.0,"e":0.012},{"c":2,"t":36,"v":1.0,"e":0.012},{"c":2,"t":38,"v":1.0,"e":0.012},{"c":2,"t":40,"v":1.0,"e":0.012},
{"c":1,"t":3.5,"v":0.99,"e":0.01},{"c":1,"t":4,"v":0.99,"e":0.01},{"c":1,"t":4.5,"v":0.985,"e":0.01},{"c":1,"t":5,"v":0.975,"e":0.012},{"c":1,"t":5.5,"v":0.955,"e":0.015},{"c":1,"t":6,"v":0.91,"e":0.02},{"c":1,"t":6.5,"v":0.79,"e":0.025},{"c":1,"t":7,"v":0.53,"e":0.025},{"c":1,"t":7.5,"v":0.58,"e":0.025},{"c":1,"t":8,"v":0.62,"e":0.025},{"c":1,"t":8.5,"v":0.68,"e":0.02},{"c":1,"t":9,"v":0.72,"e":0.02},{"c":1,"t":9.5,"v":0.76,"e":0.02},{"c":1,"t":10,"v":0.80,"e":0.02},{"c":1,"t":11,"v":0.86,"e":0.015},{"c":1,"t":12,"v":0.895,"e":0.015},{"c":1,"t":13,"v":0.92,"e":0.012},{"c":1,"t":14,"v":0.94,"e":0.012},{"c":1,"t":16,"v":0.96,"e":0.012},{"c":1,"t":18,"v":0.975,"e":0.012},{"c":1,"t":20,"v":0.985,"e":0.012},{"c":1,"t":22,"v":0.99,"e":0.012},{"c":1,"t":24,"v":0.995,"e":0.012},{"c":1,"t":26,"v":0.998,"e":0.012},{"c":1,"t":28,"v":1.0,"e":0.012},{"c":1,"t":30,"v":1.0,"e":0.012},{"c":1,"t":32,"v":1.0,"e":0.012},{"c":1,"t":34,"v":1.005,"e":0.012},{"c":1,"t":36,"v":1.005,"e":0.012},{"c":1,"t":38,"v":1.005,"e":0.012},{"c":1,"t":40,"v":1.007,"e":0.012}
]
},
"columns":4,
"spacing":{"row":66,"column":28.67},
"bounds":"flush",
"resolve":{"legend":{"color":"independent"}},
"concat":[
{"width":144,"height":235,"data":{"name":"a1"},"resolve":{"axis":{"x":"independent","y":"independent"}},
"layer":[
{"mark":{"type":"line","strokeWidth":1.2},"encoding":{
"x":{"field":"t","type":"quantitative","scale":{"domain":[0,40]},"title":"Time / s","axis":{"orient":"bottom","values":[0,4,8,12,16,20,24,28,32,36,40],"labelExpr":"datum.value % 8 === 0 ? datum.label : ''","tickSize":-4,"domain":false,"labelFlush":false,"labelOverlap":false,"labelPadding":10,"titlePadding":9}},
"y":{"field":"v","type":"quantitative","scale":{"domain":[0.2,1.1]},"title":"Relative extinction / -","axis":{"orient":"left","values":[0.2,0.3,0.4,0.5,0.6,0.7,0.8,0.9,1.0,1.1],"format":".1f","tickSize":4,"domain":false,"labelFlush":false,"labelOverlap":false,"labelPadding":1,"titlePadding":3}},
"color":{"field":"c","type":"nominal","scale":{"domain":[1,2,3,4],"range":["#1b2a85","#5a68d8","#b3b5ee","#8eeeee"]},"legend":{"orient":"none","legendX":24,"legendY":-35,"direction":"horizontal","title":null,"symbolType":"M-1,0H5","symbolSize":100,"symbolStrokeWidth":1.5,"labelFontSize":12,"labelColor":"#222","labelExpr":"'Channel ' + datum.label","labelOffset":23,"columnPadding":3,"padding":0}}}},
{"mark":{"type":"errorbar","ticks":{"size":4},"thickness":1},"encoding":{"x":{"field":"t","type":"quantitative","axis":null},"y":{"field":"v","type":"quantitative","axis":null},"yError":{"field":"e"},"color":{"field":"c","type":"nominal","legend":null}}},
{"data":{"values":[{}]},"mark":{"type":"text","align":"left","baseline":"alphabetic","fontSize":12},"encoding":{"x":{"datum":1.4,"type":"quantitative","axis":{"orient":"top","values":[0,4,8,12,16,20,24,28,32,36,40],"labels":false,"tickSize":-4,"domain":false,"title":null}},"y":{"datum":0.229,"type":"quantitative","axis":{"orient":"right","values":[0.2,0.3,0.4,0.5,0.6,0.7,0.8,0.9,1.0,1.1],"labels":false,"tickSize":-4,"domain":false,"title":null}},"text":{"value":"Q = 5 mL min⁻¹"}}},
{"data":{"values":[{}]},"mark":{"type":"text","align":"left","baseline":"alphabetic","fontSize":14,"fontWeight":"bold"},"encoding":{"x":{"datum":-11.4,"type":"quantitative","axis":null},"y":{"datum":1.162,"type":"quantitative","axis":null},"text":{"value":"a)"}}},
{"data":{"values":[{}]},"mark":{"type":"text","align":"left","baseline":"alphabetic","fontSize":12.2},"encoding":{"x":{"datum":0.19,"type":"quantitative","axis":null},"y":{"datum":1.1307,"type":"quantitative","axis":null},"text":{"value":"n"}}},
{"data":{"values":[{}]},"mark":{"type":"text","align":"left","baseline":"alphabetic","fontSize":8.3,"dy":2.5},"encoding":{"x":{"datum":2.08,"type":"quantitative","axis":null},"y":{"datum":1.1307,"type":"quantitative","axis":null},"text":{"value":"Branching"}}},
{"data":{"values":[{}]},"mark":{"type":"text","align":"left","baseline":"alphabetic","fontSize":12.2},"encoding":{"x":{"datum":13.39,"type":"quantitative","axis":null},"y":{"datum":1.1307,"type":"quantitative","axis":null},"text":{"value":"= 3, c"}}},
{"data":{"values":[{}]},"mark":{"type":"text","align":"left","baseline":"alphabetic","fontSize":8.3,"dy":2.5},"encoding":{"x":{"datum":21.78,"type":"quantitative","axis":null},"y":{"datum":1.1307,"type":"quantitative","axis":null},"text":{"value":"SPION"}}},
{"data":{"values":[{}]},"mark":{"type":"text","align":"left","baseline":"alphabetic","fontSize":12.2},"encoding":{"x":{"datum":29.9,"type":"quantitative","axis":null},"y":{"datum":1.1307,"type":"quantitative","axis":null},"text":{"value":"= 10 mg mL⁻¹, B = 0 T"}}}
]},
{"width":144,"height":235,"data":{"name":"a2"},"resolve":{"axis":{"x":"independent","y":"independent"}},
"layer":[
{"mark":{"type":"line","strokeWidth":1.2},"encoding":{
"x":{"field":"t","type":"quantitative","scale":{"domain":[0,40]},"title":"Time / s","axis":{"orient":"bottom","values":[0,4,8,12,16,20,24,28,32,36,40],"labelExpr":"datum.value % 8 === 0 ? datum.label : ''","tickSize":-4,"domain":false,"labelFlush":false,"labelOverlap":false,"labelPadding":10,"titlePadding":9}},
"y":{"field":"v","type":"quantitative","scale":{"domain":[0.2,1.1]},"title":null,"axis":{"orient":"left","values":[0.2,0.3,0.4,0.5,0.6,0.7,0.8,0.9,1.0,1.1],"labels":false,"tickSize":4,"domain":false}},
"color":{"field":"c","type":"nominal","scale":{"domain":[1,2,3,4],"range":["#1b2a85","#5a68d8","#b3b5ee","#8eeeee"]},"legend":null}}},
{"mark":{"type":"errorbar","ticks":{"size":4},"thickness":1},"encoding":{"x":{"field":"t","type":"quantitative","axis":null},"y":{"field":"v","type":"quantitative","axis":null},"yError":{"field":"e"},"color":{"field":"c","type":"nominal","legend":null}}},
{"data":{"values":[{}]},"mark":{"type":"text","align":"left","baseline":"alphabetic","fontSize":12},"encoding":{"x":{"datum":1.1,"type":"quantitative","axis":{"orient":"top","values":[0,4,8,12,16,20,24,28,32,36,40],"labels":false,"tickSize":-4,"domain":false,"title":null}},"y":{"datum":0.229,"type":"quantitative","axis":{"orient":"right","values":[0.2,0.3,0.4,0.5,0.6,0.7,0.8,0.9,1.0,1.1],"labels":false,"tickSize":-4,"domain":false,"title":null}},"text":{"value":"Q = 10 mL min⁻¹"}}}
]},
{"width":144,"height":235,"data":{"name":"a3"},"resolve":{"axis":{"x":"independent","y":"independent"}},
"layer":[
{"mark":{"type":"line","strokeWidth":1.2},"encoding":{
"x":{"field":"t","type":"quantitative","scale":{"domain":[0,40]},"title":"Time / s","axis":{"orient":"bottom","values":[0,4,8,12,16,20,24,28,32,36,40],"labelExpr":"datum.value % 8 === 0 ? datum.label : ''","tickSize":-4,"domain":false,"labelFlush":false,"labelOverlap":false,"labelPadding":10,"titlePadding":9}},
"y":{"field":"v","type":"quantitative","scale":{"domain":[0.2,1.1]},"title":null,"axis":{"orient":"left","values":[0.2,0.3,0.4,0.5,0.6,0.7,0.8,0.9,1.0,1.1],"labels":false,"tickSize":4,"domain":false}},
"color":{"field":"c","type":"nominal","scale":{"domain":[1,2,3,4],"range":["#1b2a85","#5a68d8","#b3b5ee","#8eeeee"]},"legend":null}}},
{"mark":{"type":"errorbar","ticks":{"size":4},"thickness":1},"encoding":{"x":{"field":"t","type":"quantitative","axis":null},"y":{"field":"v","type":"quantitative","axis":null},"yError":{"field":"e"},"color":{"field":"c","type":"nominal","legend":null}}},
{"data":{"values":[{}]},"mark":{"type":"text","align":"left","baseline":"alphabetic","fontSize":12},"encoding":{"x":{"datum":1.1,"type":"quantitative","axis":{"orient":"top","values":[0,4,8,12,16,20,24,28,32,36,40],"labels":false,"tickSize":-4,"domain":false,"title":null}},"y":{"datum":0.229,"type":"quantitative","axis":{"orient":"right","values":[0.2,0.3,0.4,0.5,0.6,0.7,0.8,0.9,1.0,1.1],"labels":false,"tickSize":-4,"domain":false,"title":null}},"text":{"value":"Q = 15 mL min⁻¹"}}}
]},
{"width":144,"height":235,"data":{"name":"a4"},"resolve":{"axis":{"x":"independent","y":"independent"}},
"layer":[
{"mark":{"type":"line","strokeWidth":1.2},"encoding":{
"x":{"field":"t","type":"quantitative","scale":{"domain":[0,40]},"title":"Time / s","axis":{"orient":"bottom","values":[0,4,8,12,16,20,24,28,32,36,40],"labelExpr":"datum.value % 8 === 0 ? datum.label : ''","tickSize":-4,"domain":false,"labelFlush":false,"labelOverlap":false,"labelPadding":10,"titlePadding":9}},
"y":{"field":"v","type":"quantitative","scale":{"domain":[0.2,1.1]},"title":null,"axis":{"orient":"left","values":[0.2,0.3,0.4,0.5,0.6,0.7,0.8,0.9,1.0,1.1],"labels":false,"tickSize":4,"domain":false}},
"color":{"field":"c","type":"nominal","scale":{"domain":[1,2,3,4],"range":["#1b2a85","#5a68d8","#b3b5ee","#8eeeee"]},"legend":null}}},
{"mark":{"type":"errorbar","ticks":{"size":4},"thickness":1},"encoding":{"x":{"field":"t","type":"quantitative","axis":null},"y":{"field":"v","type":"quantitative","axis":null},"yError":{"field":"e"},"color":{"field":"c","type":"nominal","legend":null}}},
{"data":{"values":[{}]},"mark":{"type":"text","align":"left","baseline":"alphabetic","fontSize":12},"encoding":{"x":{"datum":1.1,"type":"quantitative","axis":{"orient":"top","values":[0,4,8,12,16,20,24,28,32,36,40],"labels":false,"tickSize":-4,"domain":false,"title":null}},"y":{"datum":0.229,"type":"quantitative","axis":{"orient":"right","values":[0.2,0.3,0.4,0.5,0.6,0.7,0.8,0.9,1.0,1.1],"labels":false,"tickSize":-4,"domain":false,"title":null}},"text":{"value":"Q = 20 mL min⁻¹"}}}
]},
{"width":144,"height":235,"data":{"name":"b1"},"resolve":{"axis":{"x":"independent","y":"independent"}},
"layer":[
{"mark":{"type":"line","strokeWidth":1.2},"encoding":{
"x":{"field":"t","type":"quantitative","scale":{"domain":[0,40]},"title":"Time / s","axis":{"orient":"bottom","values":[0,4,8,12,16,20,24,28,32,36,40],"labelExpr":"datum.value % 8 === 0 ? datum.label : ''","tickSize":-4,"domain":false,"labelFlush":false,"labelOverlap":false,"labelPadding":10,"titlePadding":9}},
"y":{"field":"v","type":"quantitative","scale":{"domain":[0.2,1.1]},"title":"Relative extinction / -","axis":{"orient":"left","values":[0.2,0.3,0.4,0.5,0.6,0.7,0.8,0.9,1.0,1.1],"format":".1f","tickSize":4,"domain":false,"labelFlush":false,"labelOverlap":false,"labelPadding":1,"titlePadding":3}},
"color":{"field":"c","type":"nominal","scale":{"domain":[1,2,3,4],"range":["#1b2a85","#5a68d8","#b3b5ee","#8eeeee"]},"legend":null}}},
{"mark":{"type":"errorbar","ticks":{"size":4},"thickness":1},"encoding":{"x":{"field":"t","type":"quantitative","axis":null},"y":{"field":"v","type":"quantitative","axis":null},"yError":{"field":"e"},"color":{"field":"c","type":"nominal","legend":null}}},
{"data":{"values":[{}]},"mark":{"type":"text","align":"left","baseline":"alphabetic","fontSize":12},"encoding":{"x":{"datum":15.5,"type":"quantitative","axis":{"orient":"top","values":[0,4,8,12,16,20,24,28,32,36,40],"labels":false,"tickSize":-4,"domain":false,"title":null}},"y":{"datum":1.035,"type":"quantitative","axis":{"orient":"right","values":[0.2,0.3,0.4,0.5,0.6,0.7,0.8,0.9,1.0,1.1],"labels":false,"tickSize":-4,"domain":false,"title":null}},"text":{"value":"Q = 5 mL min⁻¹"}}},
{"data":{"values":[{}]},"mark":{"type":"text","align":"left","baseline":"alphabetic","fontSize":13,"lineHeight":15},"encoding":{"x":{"datum":16.8,"type":"quantitative","axis":null},"y":{"datum":0.4295,"type":"quantitative","axis":null},"text":{"value":["Persistent","accumulation","of SPIONs"]}}},
{"data":{"values":[{}]},"mark":{"type":"text","align":"left","baseline":"alphabetic","fontSize":14,"fontWeight":"bold"},"encoding":{"x":{"datum":-11.4,"type":"quantitative","axis":null},"y":{"datum":1.1785,"type":"quantitative","axis":null},"text":{"value":"b)"}}},
{"data":{"values":[{}]},"mark":{"type":"text","align":"left","baseline":"alphabetic","fontSize":12.2},"encoding":{"x":{"datum":0.19,"type":"quantitative","axis":null},"y":{"datum":1.1287,"type":"quantitative","axis":null},"text":{"value":"n"}}},
{"data":{"values":[{}]},"mark":{"type":"text","align":"left","baseline":"alphabetic","fontSize":8.3,"dy":2.5},"encoding":{"x":{"datum":2.08,"type":"quantitative","axis":null},"y":{"datum":1.1287,"type":"quantitative","axis":null},"text":{"value":"Branching"}}},
{"data":{"values":[{}]},"mark":{"type":"text","align":"left","baseline":"alphabetic","fontSize":12.2},"encoding":{"x":{"datum":13.39,"type":"quantitative","axis":null},"y":{"datum":1.1287,"type":"quantitative","axis":null},"text":{"value":"= 3, c"}}},
{"data":{"values":[{}]},"mark":{"type":"text","align":"left","baseline":"alphabetic","fontSize":8.3,"dy":2.5},"encoding":{"x":{"datum":21.78,"type":"quantitative","axis":null},"y":{"datum":1.1287,"type":"quantitative","axis":null},"text":{"value":"SPION"}}},
{"data":{"values":[{}]},"mark":{"type":"text","align":"left","baseline":"alphabetic","fontSize":12.2},"encoding":{"x":{"datum":29.9,"type":"quantitative","axis":null},"y":{"datum":1.1287,"type":"quantitative","axis":null},"text":{"value":"= 10 mg mL⁻¹, B = 0.35 T"}}}
]},
{"width":144,"height":235,"data":{"name":"b2"},"resolve":{"axis":{"x":"independent","y":"independent"}},
"layer":[
{"mark":{"type":"line","strokeWidth":1.2},"encoding":{
"x":{"field":"t","type":"quantitative","scale":{"domain":[0,40]},"title":"Time / s","axis":{"orient":"bottom","values":[0,4,8,12,16,20,24,28,32,36,40],"labelExpr":"datum.value % 8 === 0 ? datum.label : ''","tickSize":-4,"domain":false,"labelFlush":false,"labelOverlap":false,"labelPadding":10,"titlePadding":9}},
"y":{"field":"v","type":"quantitative","scale":{"domain":[0.2,1.1]},"title":null,"axis":{"orient":"left","values":[0.2,0.3,0.4,0.5,0.6,0.7,0.8,0.9,1.0,1.1],"labels":false,"tickSize":4,"domain":false}},
"color":{"field":"c","type":"nominal","scale":{"domain":[1,2,3,4],"range":["#1b2a85","#5a68d8","#b3b5ee","#8eeeee"]},"legend":null}}},
{"mark":{"type":"errorbar","ticks":{"size":4},"thickness":1},"encoding":{"x":{"field":"t","type":"quantitative","axis":null},"y":{"field":"v","type":"quantitative","axis":null},"yError":{"field":"e"},"color":{"field":"c","type":"nominal","legend":null}}},
{"data":{"values":[{}]},"mark":{"type":"text","align":"left","baseline":"alphabetic","fontSize":12},"encoding":{"x":{"datum":1.1,"type":"quantitative","axis":{"orient":"top","values":[0,4,8,12,16,20,24,28,32,36,40],"labels":false,"tickSize":-4,"domain":false,"title":null}},"y":{"datum":0.225,"type":"quantitative","axis":{"orient":"right","values":[0.2,0.3,0.4,0.5,0.6,0.7,0.8,0.9,1.0,1.1],"labels":false,"tickSize":-4,"domain":false,"title":null}},"text":{"value":"Q = 10 mL min⁻¹"}}}
]},
{"width":144,"height":235,"data":{"name":"b3"},"resolve":{"axis":{"x":"independent","y":"independent"}},
"layer":[
{"mark":{"type":"line","strokeWidth":1.2},"encoding":{
"x":{"field":"t","type":"quantitative","scale":{"domain":[0,40]},"title":"Time / s","axis":{"orient":"bottom","values":[0,4,8,12,16,20,24,28,32,36,40],"labelExpr":"datum.value % 8 === 0 ? datum.label : ''","tickSize":-4,"domain":false,"labelFlush":false,"labelOverlap":false,"labelPadding":10,"titlePadding":9}},
"y":{"field":"v","type":"quantitative","scale":{"domain":[0.2,1.1]},"title":null,"axis":{"orient":"left","values":[0.2,0.3,0.4,0.5,0.6,0.7,0.8,0.9,1.0,1.1],"labels":false,"tickSize":4,"domain":false}},
"color":{"field":"c","type":"nominal","scale":{"domain":[1,2,3,4],"range":["#1b2a85","#5a68d8","#b3b5ee","#8eeeee"]},"legend":null}}},
{"mark":{"type":"errorbar","ticks":{"size":4},"thickness":1},"encoding":{"x":{"field":"t","type":"quantitative","axis":null},"y":{"field":"v","type":"quantitative","axis":null},"yError":{"field":"e"},"color":{"field":"c","type":"nominal","legend":null}}},
{"data":{"values":[{}]},"mark":{"type":"text","align":"left","baseline":"alphabetic","fontSize":12},"encoding":{"x":{"datum":1.1,"type":"quantitative","axis":{"orient":"top","values":[0,4,8,12,16,20,24,28,32,36,40],"labels":false,"tickSize":-4,"domain":false,"title":null}},"y":{"datum":0.225,"type":"quantitative","axis":{"orient":"right","values":[0.2,0.3,0.4,0.5,0.6,0.7,0.8,0.9,1.0,1.1],"labels":false,"tickSize":-4,"domain":false,"title":null}},"text":{"value":"Q = 15 mL min⁻¹"}}}
]},
{"width":144,"height":235,"data":{"name":"b4"},"resolve":{"axis":{"x":"independent","y":"independent"}},
"layer":[
{"mark":{"type":"line","strokeWidth":1.2},"encoding":{
"x":{"field":"t","type":"quantitative","scale":{"domain":[0,40]},"title":"Time / s","axis":{"orient":"bottom","values":[0,4,8,12,16,20,24,28,32,36,40],"labelExpr":"datum.value % 8 === 0 ? datum.label : ''","tickSize":-4,"domain":false,"labelFlush":false,"labelOverlap":false,"labelPadding":10,"titlePadding":9}},
"y":{"field":"v","type":"quantitative","scale":{"domain":[0.2,1.1]},"title":null,"axis":{"orient":"left","values":[0.2,0.3,0.4,0.5,0.6,0.7,0.8,0.9,1.0,1.1],"labels":false,"tickSize":4,"domain":false}},
"color":{"field":"c","type":"nominal","scale":{"domain":[1,2,3,4],"range":["#1b2a85","#5a68d8","#b3b5ee","#8eeeee"]},"legend":null}}},
{"mark":{"type":"errorbar","ticks":{"size":4},"thickness":1},"encoding":{"x":{"field":"t","type":"quantitative","axis":null},"y":{"field":"v","type":"quantitative","axis":null},"yError":{"field":"e"},"color":{"field":"c","type":"nominal","legend":null}}},
{"data":{"values":[{}]},"mark":{"type":"text","align":"left","baseline":"alphabetic","fontSize":12},"encoding":{"x":{"datum":1.1,"type":"quantitative","axis":{"orient":"top","values":[0,4,8,12,16,20,24,28,32,36,40],"labels":false,"tickSize":-4,"domain":false,"title":null}},"y":{"datum":0.225,"type":"quantitative","axis":{"orient":"right","values":[0.2,0.3,0.4,0.5,0.6,0.7,0.8,0.9,1.0,1.1],"labels":false,"tickSize":-4,"domain":false,"title":null}},"text":{"value":"Q = 20 mL min⁻¹"}}}
]}
]
}
